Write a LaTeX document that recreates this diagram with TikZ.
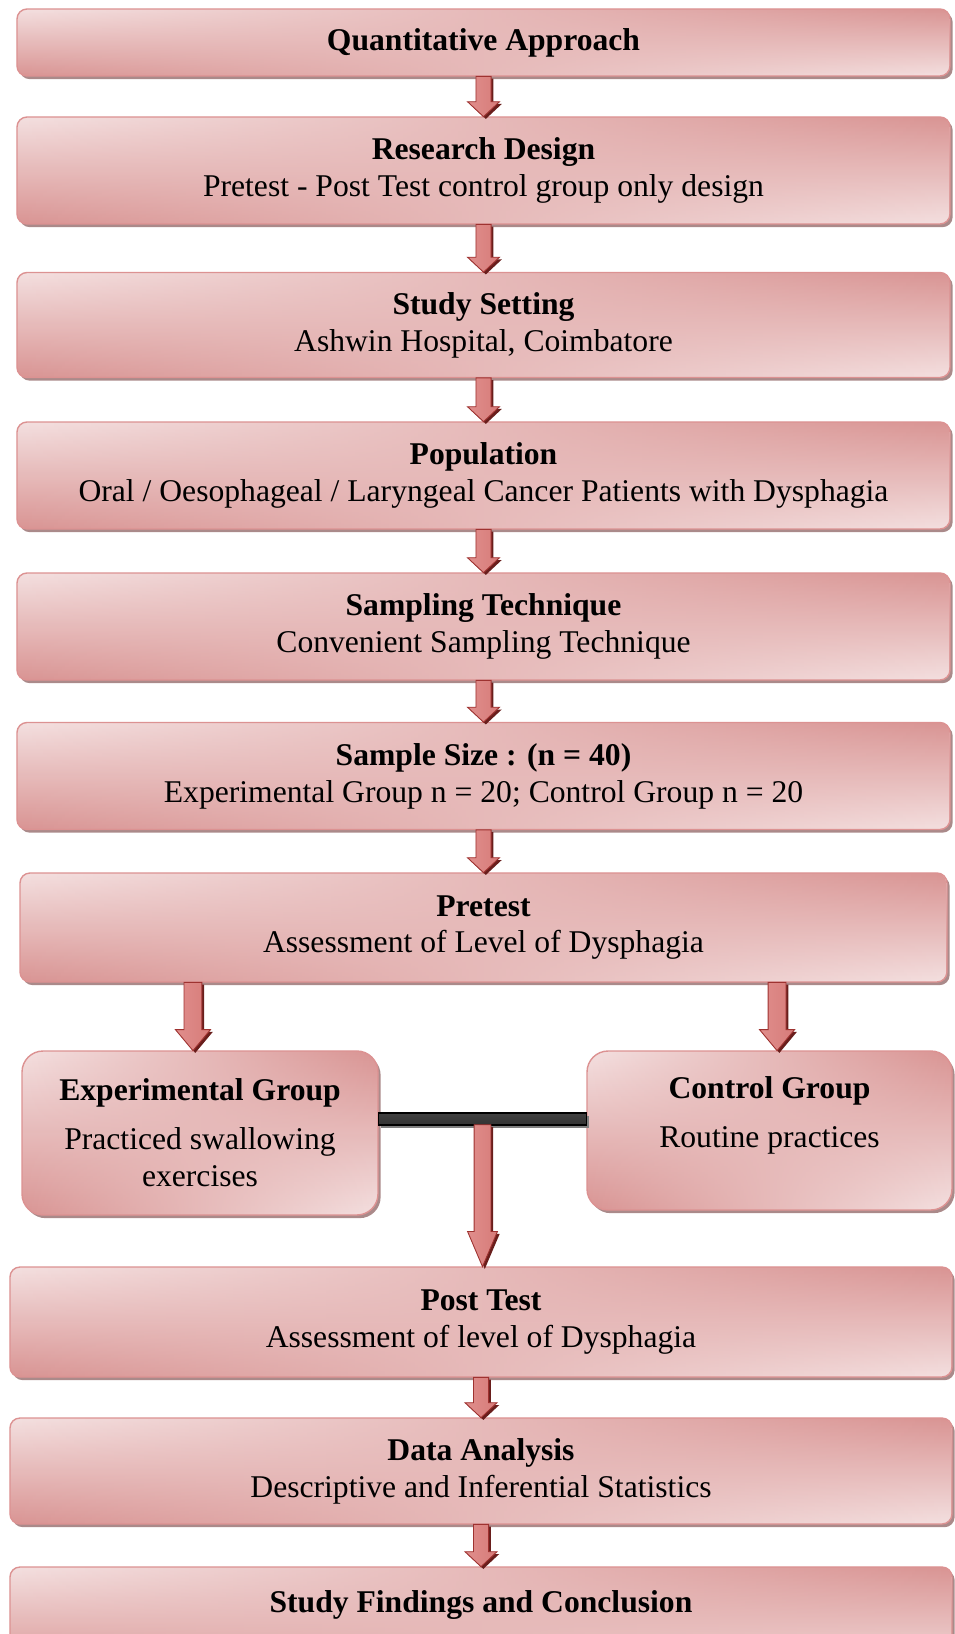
\documentclass[tikz,border=0pt]{standalone}
\usepackage{fontspec}
\setmainfont{Liberation Serif}
\usetikzlibrary{calc,shadows,fadings}

\definecolor{boxlight}{RGB}{244,224,224}
\definecolor{boxdark}{RGB}{217,148,147}
\definecolor{boxline}{RGB}{220,146,146}
\definecolor{boxshadow}{RGB}{170,138,138}
\definecolor{arrowlight}{RGB}{224,142,140}
\definecolor{arrowmid}{RGB}{192,80,77}
\definecolor{arrowline}{RGB}{158,50,48}
\definecolor{arrowshadow}{RGB}{105,30,28}

% from, to, shaft half width, head half width, head length
\newcommand{\flowarrow}[5]{%
  \path[flowarrow] let \p1=(#1), \p2=(#2) in
    (\x1-#3,\y1) -- (\x1+#3,\y1) -- (\x1+#3,\y2+#5) -- (\x1+#4,\y2+#5)
    -- (\x1,\y2) -- (\x1-#4,\y2+#5) -- (\x1-#3,\y2+#5) -- cycle;
}

\begin{document}
\begin{tikzpicture}[y=-1cm,
  font=\fontsize{18}{21}\selectfont,
  stage/.style={rectangle, rounded corners=5.7pt, align=center, inner sep=0pt,
    top color=boxlight, middle color=boxlight!90!boxdark, bottom color=boxdark,
    drop shadow={shadow xshift=1.5pt, shadow yshift=-1.8pt, fill=boxshadow, opacity=1},
    postaction={path fading=west, top color=boxdark, middle color=boxlight!90!boxdark, bottom color=boxlight},
    postaction={draw=boxline, line width=0.8pt}},
  group/.style={stage, rounded corners=12pt},
  flowarrow/.style={draw=arrowline, line width=0.5pt,
    left color=arrowlight, middle color=arrowmid, right color=arrowlight!70!arrowmid,
    drop shadow={shadow xshift=1.3pt, shadow yshift=-1.3pt, fill=arrowshadow, opacity=1}},
  linkbar/.style={draw=black, line width=0.8pt,
    top color=black!75, middle color=gray!45, bottom color=black!80,
    drop shadow={shadow xshift=1.5pt, shadow yshift=-2pt, fill=gray, opacity=1}}]

\useasboundingbox (0,0) rectangle (19.08,32.68);

% stages:
\node[stage, minimum width=18.66cm, minimum height=1.34cm] (qa) at (9.67,0.85)
  {\textbf{Quantitative Approach}};
\node[stage, minimum width=18.66cm, minimum height=2.14cm] (rd) at (9.67,3.41)
  {\textbf{Research Design}\\Pretest - Post Test control group only design};
\node[stage, minimum width=18.66cm, minimum height=2.10cm] (ss) at (9.67,6.50)
  {\textbf{Study Setting}\\Ashwin Hospital, Coimbatore};
\node[stage, minimum width=18.66cm, minimum height=2.14cm] (pop) at (9.67,9.51)
  {\textbf{Population}\\Oral / Oesophageal / Laryngeal Cancer Patients with Dysphagia};
\node[stage, minimum width=18.66cm, minimum height=2.14cm] (st) at (9.67,12.53)
  {\textbf{Sampling Technique}\\Convenient Sampling Technique};
\node[stage, minimum width=18.66cm, minimum height=2.14cm] (sz) at (9.67,15.52)
  {\textbf{Sample Size : (n = 40)}\\Experimental Group n = 20; Control Group n = 20};
\node[stage, minimum width=18.54cm, minimum height=2.18cm] (pt) at (9.67,18.55)
  {\textbf{Pretest}\\Assessment of Level of Dysphagia};

\node[group, minimum width=7.12cm, minimum height=3.28cm] (eg) at (4.00,22.66)
  {\textbf{Experimental Group}\\[7pt]Practiced swallowing\\exercises};
\node[group, minimum width=7.30cm, minimum height=3.18cm] (cg) at (15.39,22.61)
  {\textbf{Control Group}\\[7pt]Routine practices\\\mbox{}};

\node[stage, minimum width=18.84cm, minimum height=2.20cm] (post) at (9.62,26.44)
  {\textbf{Post Test}\\Assessment of level of Dysphagia};
\node[stage, minimum width=18.84cm, minimum height=2.12cm] (da) at (9.62,29.42)
  {\textbf{Data Analysis}\\Descriptive and Inferential Statistics};
\node[stage, minimum width=18.84cm, minimum height=2.12cm] (sf) at (9.62,32.40)
  {\textbf{Study Findings and Conclusion}\\\mbox{}};

% arrows:
\flowarrow{qa.south}{rd.north}{4.3pt}{9.1pt}{8.5pt}
\flowarrow{rd.south}{ss.north}{4.3pt}{9.1pt}{8.5pt}
\flowarrow{ss.south}{pop.north}{4.3pt}{9.1pt}{8.5pt}
\flowarrow{pop.south}{st.north}{4.3pt}{9.1pt}{8.5pt}
\flowarrow{st.south}{sz.north}{4.3pt}{9.1pt}{8.5pt}
\flowarrow{sz.south}{pt.north}{4.3pt}{9.1pt}{8.5pt}
\coordinate (egin) at ([xshift=-4pt]eg.north);
\coordinate (cgin) at ([xshift=4.3pt]cg.north);
\flowarrow{pt.south -| egin}{egin}{5.1pt}{10pt}{12pt}
\flowarrow{pt.south -| cgin}{cgin}{5.1pt}{10pt}{12pt}

\path[linkbar] let \p1=(eg.east), \p2=(cg.west) in
  (\x1,\y1+4.6pt) rectangle (\x2,\y1+11.4pt);
\coordinate[yshift=4pt] (join) at ($(eg.east)!0.5!(cg.west)$);
\flowarrow{join}{post.north}{4.8pt}{8.5pt}{20pt}

\flowarrow{post.south}{da.north}{4.3pt}{9.1pt}{8.5pt}
\flowarrow{da.south}{sf.north}{4.3pt}{9.1pt}{8.5pt}

\end{tikzpicture}
\end{document}
